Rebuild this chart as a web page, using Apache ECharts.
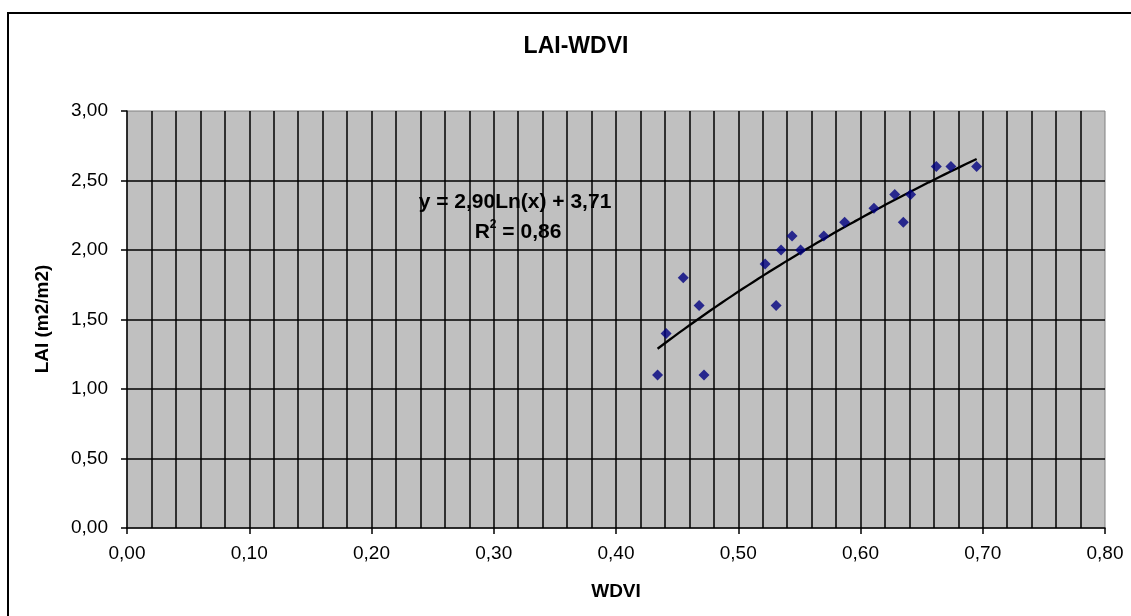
<!DOCTYPE html>
<html>
<head>
<meta charset="utf-8">
<style>
  html, body { margin: 0; padding: 0; background: #ffffff; }
  #chart { width: 1131px; height: 616px; }
</style>
<script src="https://cdn.jsdelivr.net/npm/echarts@6/dist/echarts.min.js"></script>
</head>
<body>
<div id="chart"></div>
<script>
// ---- data ----
const wdvi = [0.434, 0.441, 0.455, 0.468, 0.472, 0.522, 0.531, 0.535, 0.544, 0.551, 0.570, 0.587, 0.611, 0.628, 0.635, 0.641, 0.662, 0.674, 0.695];
const lai  = [1.10, 1.40, 1.80, 1.60, 1.10, 1.90, 1.60, 2.00, 2.10, 2.00, 2.10, 2.20, 2.30, 2.40, 2.20, 2.40, 2.60, 2.60, 2.60];
// logarithmic trendline as printed on the chart: y = a*ln(x) + b
const trendA = 2.90;
const trendB = 3.71;
const trendLabel = 'y = 2,90Ln(x) + 3,71';
const r2Value = '0,86';
const chartTitle = 'LAI-WDVI';
const xTitle = 'WDVI';
const yTitle = 'LAI (m2/m2)';

const points = wdvi.map((x, i) => [x, lai[i]]);
const xMinData = Math.min(...wdvi), xMaxData = Math.max(...wdvi);
const trend = [];
const steps = 60;
for (let i = 0; i <= steps; i++) {
  const x = xMinData + (xMaxData - xMinData) * i / steps;
  trend.push([x, trendA * Math.log(x) + trendB]);
}

const fmt = v => v.toFixed(2).replace('.', ',');
const FONT = '"Liberation Sans", Arial, sans-serif';

const chart = echarts.init(document.getElementById('chart'), null, { renderer: 'canvas' });
chart.setOption({
  animation: false,
  backgroundColor: '#ffffff',
  grid: {
    left: 127, top: 111, width: 978, height: 417,
    show: true, backgroundColor: '#c0c0c0', borderColor: '#808080', borderWidth: 1
  },
  xAxis: {
    type: 'value', min: 0, max: 0.8, interval: 0.1,
    axisLine: { show: true, onZero: false, lineStyle: { color: '#000', width: 1.5 } },
    axisTick: { show: true, length: 6, lineStyle: { color: '#000', width: 1.5 } },
    axisLabel: { formatter: fmt, color: '#000', fontFamily: FONT, fontSize: 19, margin: 16 },
    splitLine: { show: true, showMinLine: false, showMaxLine: false, lineStyle: { color: '#000', width: 1.5 } },
    minorTick: { show: false, splitNumber: 5 },
    minorSplitLine: { show: true, lineStyle: { color: '#000', width: 1.5 } }
  },
  yAxis: {
    type: 'value', min: 0, max: 3, interval: 0.5,
    axisLine: { show: true, onZero: false, lineStyle: { color: '#000', width: 1.5 } },
    axisTick: { show: true, length: 6, lineStyle: { color: '#000', width: 1.5 } },
    axisLabel: { formatter: fmt, color: '#000', fontFamily: FONT, fontSize: 19, margin: 19 },
    splitLine: { show: true, showMinLine: false, showMaxLine: false, lineStyle: { color: '#000', width: 1.5 } }
  },
  series: [
    {
      type: 'line', data: trend, showSymbol: false, smooth: false,
      lineStyle: { color: '#000', width: 2.3 }, z: 3, silent: true
    },
    {
      type: 'scatter', data: points, symbol: 'diamond', symbolSize: [11, 11],
      itemStyle: { color: '#000080' }, z: 4
    }
  ],
  graphic: [
    { type: 'rect', z: 100, silent: true,
      shape: { x: 8, y: 13, width: 1300, height: 800 },
      style: { fill: 'none', stroke: '#000', lineWidth: 2 } },
    { type: 'text', z: 100, x: 576, y: 47,
      style: { text: chartTitle, font: 'bold 23px ' + FONT, fill: '#000', textAlign: 'center', textVerticalAlign: 'middle' } },
    { type: 'text', z: 100, x: 616, y: 592,
      style: { text: xTitle, font: 'bold 19px ' + FONT, fill: '#000', textAlign: 'center', textVerticalAlign: 'middle' } },
    { type: 'text', z: 100, x: 43, y: 319, rotation: Math.PI / 2,
      style: { text: yTitle, font: 'bold 19px ' + FONT, fill: '#000', textAlign: 'center', textVerticalAlign: 'middle' } },
    { type: 'text', z: 100, x: 515, y: 202,
      style: { text: trendLabel, font: 'bold 21px ' + FONT, fill: '#000', textAlign: 'center', textVerticalAlign: 'middle' } },
    { type: 'text', z: 100, x: 518, y: 231,
      style: {
        text: '{b|R}{s|2}{b| = ' + r2Value + '}',
        textAlign: 'center', textVerticalAlign: 'middle',
        rich: {
          b: { fontFamily: FONT, fontWeight: 'bold', fontSize: 21, fill: '#000', color: '#000', lineHeight: 24, verticalAlign: 'bottom' },
          s: { fontFamily: FONT, fontWeight: 'bold', fontSize: 12, fill: '#000', color: '#000', lineHeight: 24, verticalAlign: 'top' }
        }
      } }
  ]
});
</script>
</body>
</html>
